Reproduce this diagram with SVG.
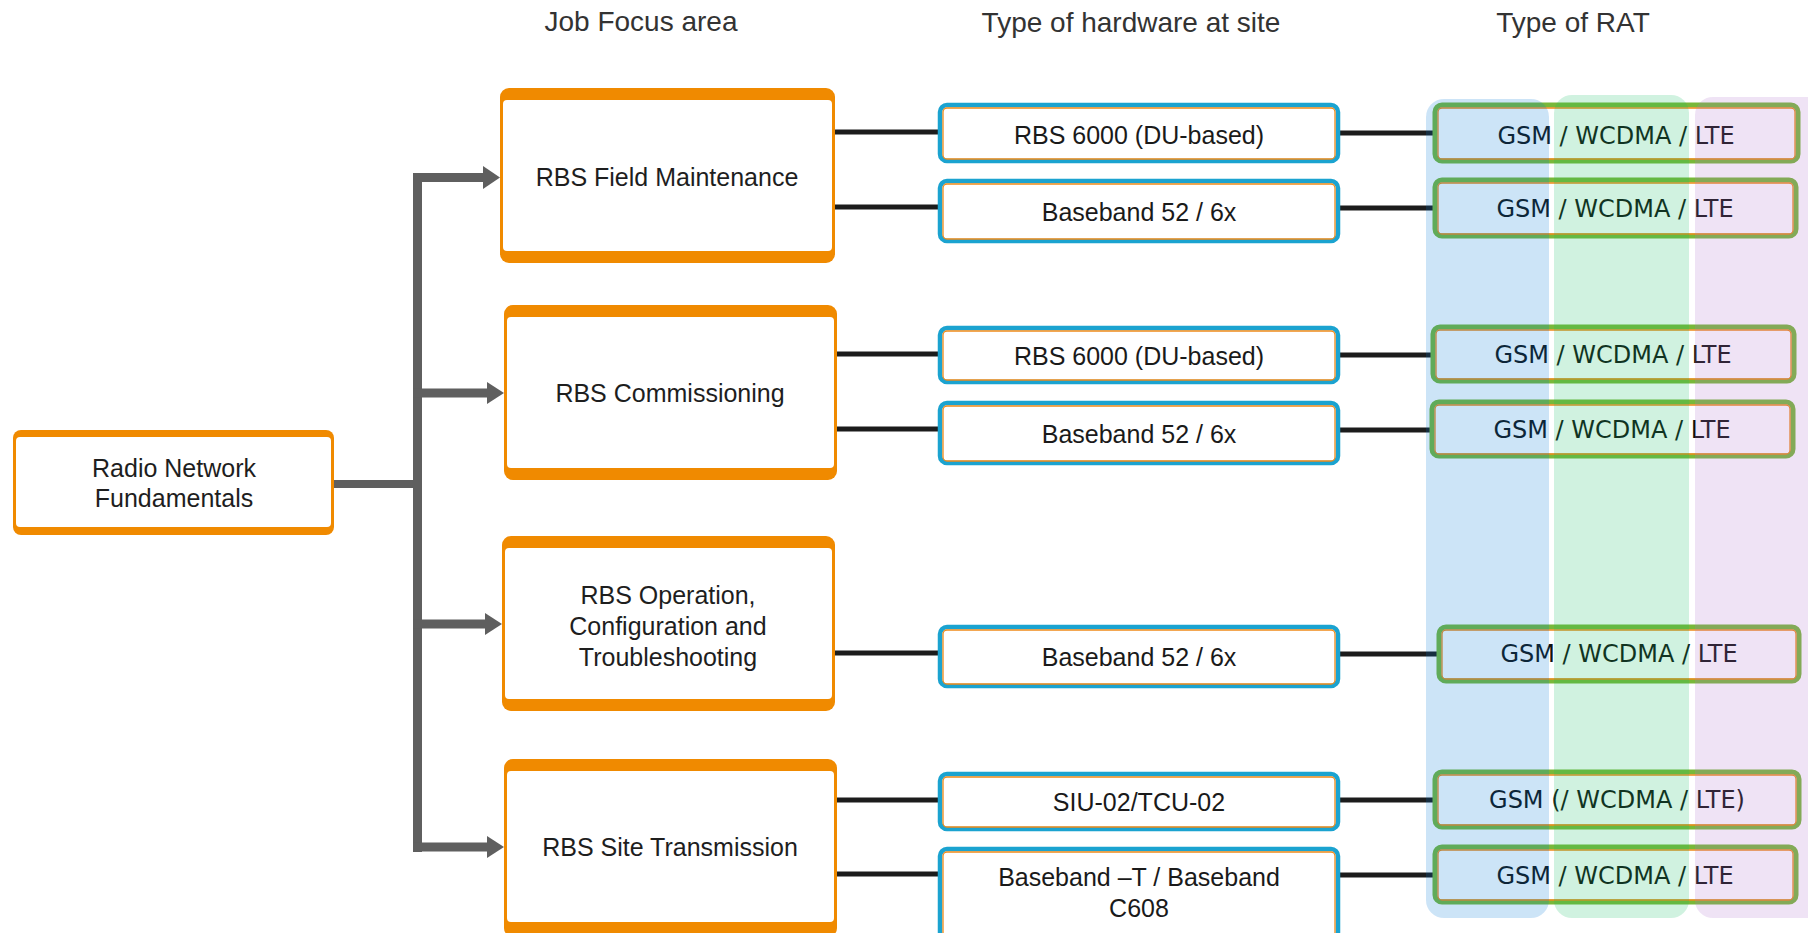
<svg xmlns="http://www.w3.org/2000/svg" width="1808" height="933" viewBox="0 0 1808 933">
<style>
.hdr{font-family:"Liberation Sans",Arial,sans-serif;font-size:28px;fill:#333;text-anchor:middle}
.jt{font-family:"Liberation Sans",Arial,sans-serif;font-size:25px;fill:#1e1e1e;text-anchor:middle}
.ht{font-family:"Liberation Sans",Arial,sans-serif;font-size:25px;fill:#1a1a1a;text-anchor:middle}
.rt{font-family:"DejaVu Sans",Verdana,sans-serif;font-size:24px;fill:#111;text-anchor:middle}
.orange{fill:#f08a00}
.white{fill:#fff}
.hw{fill:#fff;stroke:#1ba3d0;stroke-width:4.5}
.hwin{fill:none;stroke:#ef8a1a;stroke-width:1.3}
.rat{fill:#fff;stroke:#78b83a;stroke-width:5}
.ratin{fill:none;stroke:#ef8a1a;stroke-width:1.3}
.blk{stroke:#1c1c1c;stroke-width:5;fill:none}
.gry{stroke:#5f5f5f;fill:none}
.arh{fill:#5f5f5f}
</style>

<text class="hdr" x="641" y="31">Job Focus area</text>
<text class="hdr" x="1131" y="32">Type of hardware at site</text>
<text class="hdr" x="1573" y="32">Type of RAT</text>

<g id="connectors">
  <line class="gry" x1="334" y1="484" x2="422" y2="484" stroke-width="8"/>
  <line class="gry" x1="417.5" y1="173" x2="417.5" y2="852" stroke-width="9"/>
  <line class="gry" x1="413" y1="177.5" x2="485" y2="177.5" stroke-width="9"/>
  <polygon class="arh" points="483,166 500,177.5 483,189"/>
  <line class="gry" x1="413" y1="393" x2="489" y2="393" stroke-width="9"/>
  <polygon class="arh" points="487,382 504,393 487,404"/>
  <line class="gry" x1="413" y1="624" x2="487" y2="624" stroke-width="9"/>
  <polygon class="arh" points="485,613 502,624 485,635"/>
  <line class="gry" x1="413" y1="847" x2="489" y2="847" stroke-width="9"/>
  <polygon class="arh" points="487,836 504,847 487,858"/>

  <line class="blk" x1="835" y1="132" x2="940" y2="132"/>
  <line class="blk" x1="835" y1="207" x2="940" y2="207"/>
  <line class="blk" x1="837" y1="354" x2="940" y2="354"/>
  <line class="blk" x1="837" y1="429" x2="940" y2="429"/>
  <line class="blk" x1="835" y1="653" x2="940" y2="653"/>
  <line class="blk" x1="837" y1="800" x2="940" y2="800"/>
  <line class="blk" x1="837" y1="874" x2="940" y2="874"/>

  <line class="blk" x1="1339" y1="133" x2="1433" y2="133"/>
  <line class="blk" x1="1339" y1="208" x2="1433" y2="208"/>
  <line class="blk" x1="1339" y1="355" x2="1431" y2="355"/>
  <line class="blk" x1="1339" y1="430" x2="1430" y2="430"/>
  <line class="blk" x1="1339" y1="654" x2="1437" y2="654"/>
  <line class="blk" x1="1339" y1="800" x2="1433" y2="800"/>
  <line class="blk" x1="1339" y1="875" x2="1433" y2="875"/>
</g>

<g id="radio">
  <rect class="orange" x="13" y="430" width="321" height="105" rx="8"/>
  <rect class="white" x="16" y="437" width="315" height="90" rx="4"/>
  <text class="jt" x="174" y="477">Radio Network</text>
  <text class="jt" x="174" y="507">Fundamentals</text>
</g>

<g id="job1">
  <rect class="orange" x="500" y="88" width="335" height="175" rx="9"/>
  <rect class="white" x="503" y="100" width="329" height="151" rx="4"/>
  <text class="jt" x="667" y="186">RBS Field Maintenance</text>
</g>
<g id="job2">
  <rect class="orange" x="504" y="305" width="333" height="175" rx="9"/>
  <rect class="white" x="507" y="317" width="327" height="151" rx="4"/>
  <text class="jt" x="670" y="402">RBS Commissioning</text>
</g>
<g id="job3">
  <rect class="orange" x="502" y="536" width="333" height="175" rx="9"/>
  <rect class="white" x="505" y="548" width="327" height="151" rx="4"/>
  <text class="jt" x="668" y="604">RBS Operation,</text>
  <text class="jt" x="668" y="635">Configuration and</text>
  <text class="jt" x="668" y="666">Troubleshooting</text>
</g>
<g id="job4">
  <rect class="orange" x="504" y="759" width="333" height="178" rx="9"/>
  <rect class="white" x="507" y="771" width="327" height="151" rx="4"/>
  <text class="jt" x="670" y="856">RBS Site Transmission</text>
</g>

<g id="hw1"><rect class="hw" x="940" y="105" width="398" height="56" rx="7"/><rect class="hwin" x="943" y="108" width="392" height="51" rx="4"/><text class="ht" x="1139" y="144">RBS 6000 (DU-based)</text></g>
<g id="hw2"><rect class="hw" x="940" y="181" width="398" height="60" rx="7"/><rect class="hwin" x="943" y="184" width="392" height="55" rx="4"/><text class="ht" x="1139" y="221">Baseband 52 / 6x</text></g>
<g id="hw3"><rect class="hw" x="940" y="328" width="398" height="54" rx="7"/><rect class="hwin" x="943" y="331" width="392" height="49" rx="4"/><text class="ht" x="1139" y="365">RBS 6000 (DU-based)</text></g>
<g id="hw4"><rect class="hw" x="940" y="403" width="398" height="60" rx="7"/><rect class="hwin" x="943" y="406" width="392" height="55" rx="4"/><text class="ht" x="1139" y="443">Baseband 52 / 6x</text></g>
<g id="hw5"><rect class="hw" x="940" y="627" width="398" height="59" rx="7"/><rect class="hwin" x="943" y="630" width="392" height="54" rx="4"/><text class="ht" x="1139" y="666">Baseband 52 / 6x</text></g>
<g id="hw6"><rect class="hw" x="940" y="774" width="398" height="55" rx="7"/><rect class="hwin" x="943" y="777" width="392" height="50" rx="4"/><text class="ht" x="1139" y="811">SIU-02/TCU-02</text></g>
<g id="hw7"><rect class="hw" x="940" y="849" width="398" height="90" rx="7"/><rect class="hwin" x="943" y="852" width="392" height="85" rx="4"/><text class="ht" x="1139" y="886">Baseband –T / Baseband</text><text class="ht" x="1139" y="917">C608</text></g>

<g id="rat1"><rect class="rat" x="1435" y="105" width="363" height="56" rx="7"/><rect class="ratin" x="1438" y="108" width="357" height="51" rx="4"/><text class="rt" x="1616" y="144">GSM / WCDMA / LTE</text></g>
<g id="rat2"><rect class="rat" x="1435" y="180" width="361" height="56" rx="7"/><rect class="ratin" x="1438" y="183" width="355" height="51" rx="4"/><text class="rt" x="1615" y="217">GSM / WCDMA / LTE</text></g>
<g id="rat3"><rect class="rat" x="1433" y="327" width="361" height="54" rx="7"/><rect class="ratin" x="1436" y="330" width="355" height="49" rx="4"/><text class="rt" x="1613" y="363">GSM / WCDMA / LTE</text></g>
<g id="rat4"><rect class="rat" x="1432" y="402" width="361" height="54" rx="7"/><rect class="ratin" x="1435" y="405" width="355" height="49" rx="4"/><text class="rt" x="1612" y="438">GSM / WCDMA / LTE</text></g>
<g id="rat5"><rect class="rat" x="1439" y="627" width="360" height="54" rx="7"/><rect class="ratin" x="1442" y="630" width="354" height="49" rx="4"/><text class="rt" x="1619" y="662">GSM / WCDMA / LTE</text></g>
<g id="rat6"><rect class="rat" x="1435" y="772" width="364" height="55" rx="7"/><rect class="ratin" x="1438" y="775" width="358" height="50" rx="4"/><text class="rt" x="1617" y="808">GSM (/ WCDMA / LTE)</text></g>
<g id="rat7"><rect class="rat" x="1435" y="847" width="361" height="55" rx="7"/><rect class="ratin" x="1438" y="850" width="355" height="50" rx="4"/><text class="rt" x="1615" y="884">GSM / WCDMA / LTE</text></g>

<g id="columns">
  <rect x="1426" y="99" width="123" height="819" rx="18" fill="#0078d7" fill-opacity="0.2"/>
  <rect x="1554" y="95" width="135" height="823" rx="18" fill="#14be64" fill-opacity="0.2"/>
  <rect x="1695" y="97" width="140" height="821" rx="18" fill="#af73cd" fill-opacity="0.2"/>
</g>
</svg>
